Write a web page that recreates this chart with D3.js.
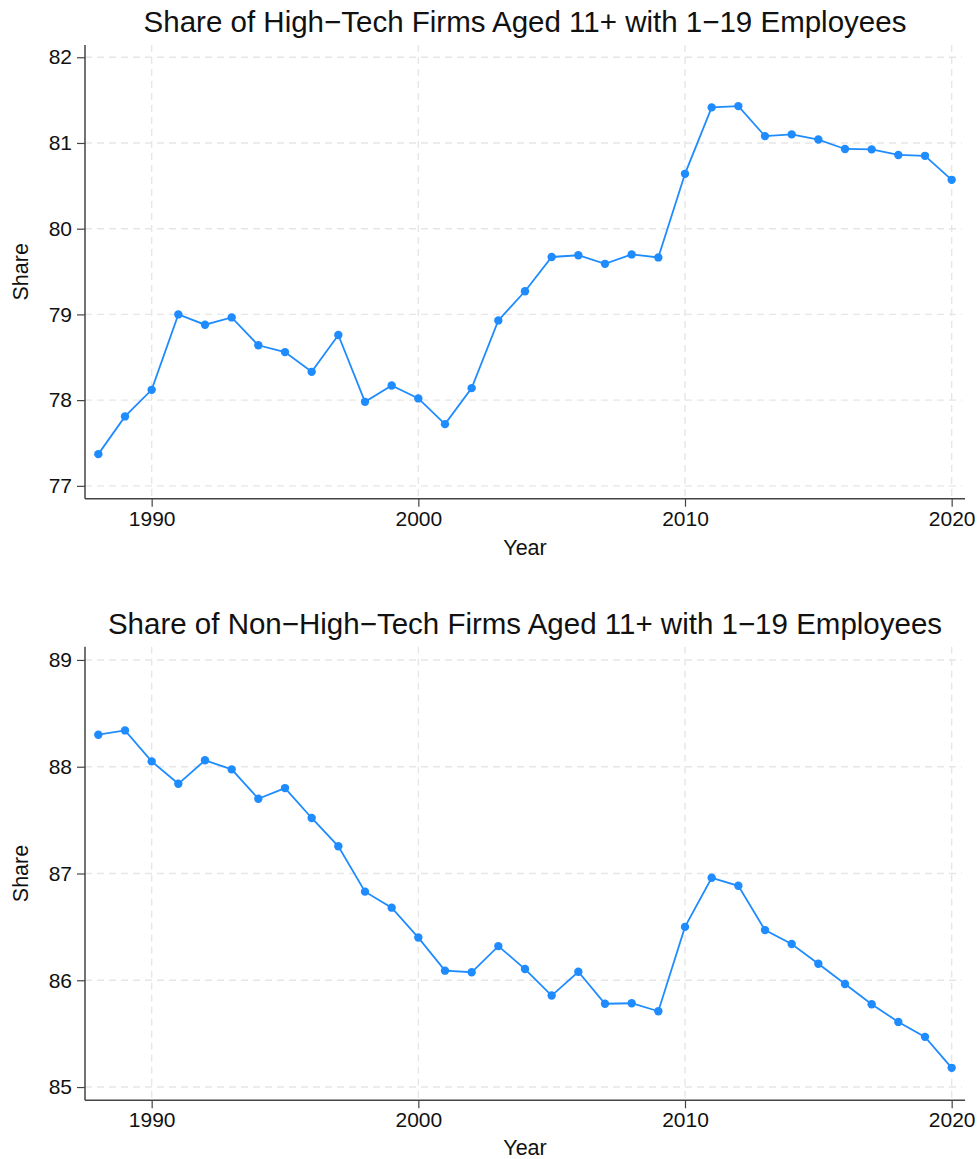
<!DOCTYPE html>
<html>
<head>
<meta charset="utf-8">
<script src="https://cdn.jsdelivr.net/npm/d3@7"></script>
<style>
  html, body { margin: 0; padding: 0; background: #fff; }
  svg { display: block; font-family: "Liberation Sans", Arial, Helvetica, sans-serif; }
</style>
</head>
<body>
<svg id="chart" width="977" height="1159"></svg>
<script>
const years = d3.range(1988, 2021);
const highTechShare = [77.37, 77.81, 78.12, 79.00, 78.88, 78.965, 78.64, 78.56, 78.33, 78.76,
  77.98, 78.17, 78.02, 77.72, 78.14, 78.93, 79.27, 79.67, 79.69, 79.59,
  79.70, 79.665, 80.64, 81.415, 81.43, 81.08, 81.10, 81.04, 80.93, 80.925,
  80.86, 80.85, 80.57];
const nonHighTechShare = [88.30, 88.34, 88.05, 87.84, 88.06, 87.975, 87.70, 87.80, 87.52, 87.255,
  86.83, 86.68, 86.40, 86.09, 86.075, 86.32, 86.105, 85.857, 86.08, 85.78,
  85.785, 85.71, 86.50, 86.96, 86.885, 86.47, 86.34, 86.155, 85.965, 85.775,
  85.61, 85.47, 85.18];
const xTicks = [1990, 2000, 2010, 2020];
const yTicksTop = [77, 78, 79, 80, 81, 82];
const yTicksBottom = [85, 86, 87, 88, 89];
const titles = ["Share of High\u2212Tech Firms Aged 11+ with 1\u221219 Employees",
                "Share of Non\u2212High\u2212Tech Firms Aged 11+ with 1\u221219 Employees"];

const svg = d3.select("#chart");
const color = "#1e8cff";

function panel(cfg) {
  const g = svg.append("g");
  const x = d3.scaleLinear().domain([1987.5, 2020.5]).range([85, 965]);
  const y = d3.scaleLinear().domain(cfg.yDomain).range([cfg.bottom, cfg.top]);

  // grid
  g.selectAll("line.hg").data(cfg.yTicks).enter().append("line")
    .attr("x1", 85).attr("x2", 962)
    .attr("y1", d => y(d)).attr("y2", d => y(d))
    .attr("stroke", "#e6e6e6").attr("stroke-width", 1.4).attr("stroke-dasharray", "7,5");
  g.selectAll("line.vg").data(xTicks).enter().append("line")
    .attr("x1", d => x(d)).attr("x2", d => x(d))
    .attr("y1", cfg.top).attr("y2", cfg.bottom)
    .attr("stroke", "#e6e6e6").attr("stroke-width", 1.4).attr("stroke-dasharray", "7,5");

  // axes
  const yAxis = d3.axisLeft(y).tickValues(cfg.yTicks).tickSize(8).tickPadding(5).tickFormat(d3.format("d"));
  const yg = g.append("g").attr("transform", "translate(85,0)").call(yAxis);
  yg.select(".domain").attr("d", `M0,${cfg.top}V${cfg.bottom}`);
  const xAxis = d3.axisBottom(x).tickValues(xTicks).tickSize(8).tickPadding(4).tickFormat(d3.format("d"));
  const xg = g.append("g").attr("transform", `translate(0,${cfg.bottom})`).call(xAxis);
  xg.select(".domain").attr("d", "M85,0H965");
  [yg, xg].forEach(a => {
    a.select(".domain").attr("stroke", "#444").attr("stroke-width", 1.5);
    a.selectAll(".tick line").attr("stroke", "#444").attr("stroke-width", 1.2);
    a.selectAll(".tick text").attr("fill", "#111").style("font-size", "21px")
      .style("font-family", '"Liberation Sans", Arial, sans-serif');
  });

  // line
  const data = years.map((yr, i) => ({yr, v: cfg.values[i]}));
  g.append("path").datum(data)
    .attr("fill", "none").attr("stroke", color).attr("stroke-width", 1.8)
    .attr("d", d3.line().x(d => x(d.yr)).y(d => y(d.v)));
  g.selectAll("circle").data(data).enter().append("circle")
    .attr("cx", d => x(d.yr)).attr("cy", d => y(d.v)).attr("r", 4.2).attr("fill", color);

  // titles
  g.append("text").attr("x", 525).attr("y", cfg.titleY).attr("text-anchor", "middle")
    .style("font-size", "29.5px").attr("fill", "#111").text(cfg.title);
  g.append("text").attr("x", 525).attr("y", cfg.xLabelY).attr("text-anchor", "middle")
    .style("font-size", "21.5px").attr("fill", "#111").text("Year");
  g.append("text").attr("transform", `translate(28,${(cfg.top + cfg.bottom) / 2}) rotate(-90)`)
    .attr("text-anchor", "middle").style("font-size", "21.5px").attr("fill", "#111").text("Share");
}

panel({values: highTechShare, yDomain: [76.85, 82.143], top: 45, bottom: 498.7,
  yTicks: yTicksTop, title: titles[0], titleY: 32.3, xLabelY: 555});
panel({values: nonHighTechShare, yDomain: [84.876, 89.124], top: 646.7, bottom: 1100.3,
  yTicks: yTicksBottom, title: titles[1], titleY: 634.3, xLabelY: 1155});
</script>
</body>
</html>
